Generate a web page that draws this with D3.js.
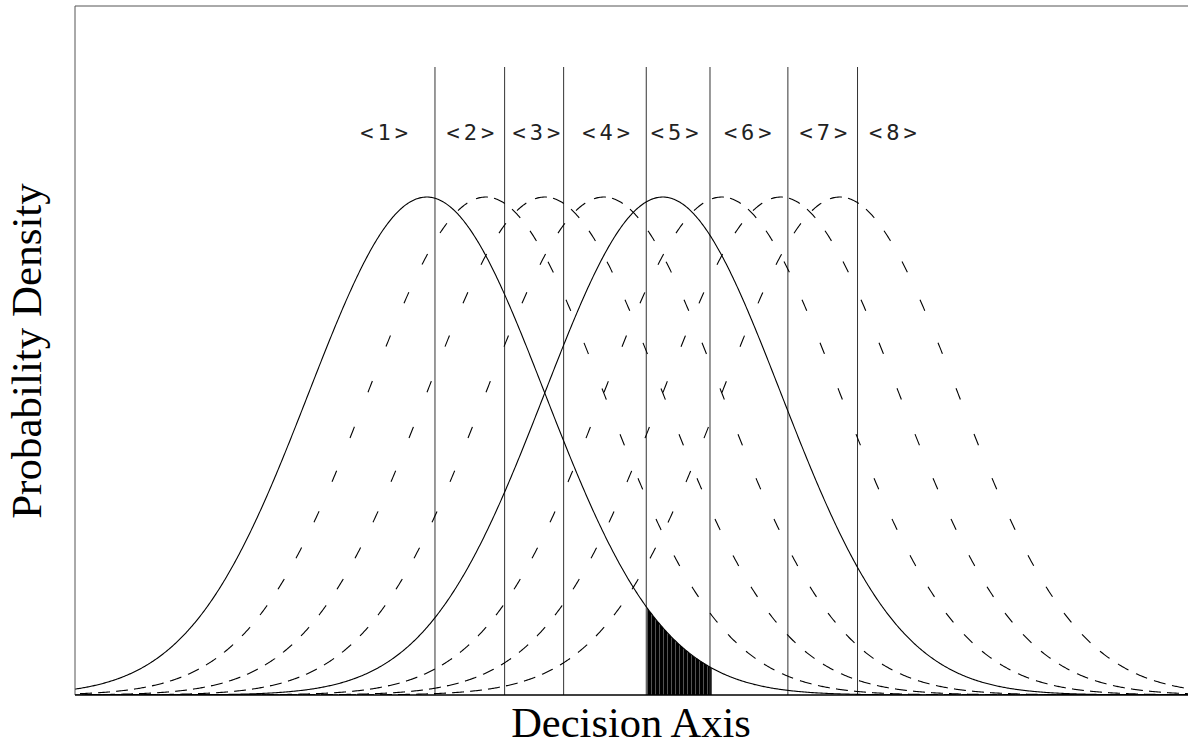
<!DOCTYPE html>
<html>
<head>
<meta charset="utf-8">
<script src="https://cdn.jsdelivr.net/npm/d3@7"></script>
<style>
  html, body { margin: 0; padding: 0; background: #fff; }
  svg { display: block; }
</style>
</head>
<body>
<svg id="chart" width="1188" height="746"></svg>
<script>
// ---- data (decision-axis units, sigma = 1) ----
const means = [0, 0.5, 1.0, 1.5, 2.0, 2.5, 3.0, 3.5];
const lineStyles = ["solid", "dashed", "dashed", "dashed", "solid", "dashed", "dashed", "dashed"];
const sigma = 1;
const criteria = [0.07, 0.66, 1.16, 1.86, 2.40, 3.06, 3.65];
const categoryLabels = ["<1>", "<2>", "<3>", "<4>", "<5>", "<6>", "<7>", "<8>"];
const labelPositions = [-0.36, 0.37, 0.93, 1.52, 2.10, 2.72, 3.36, 3.95];
const shadedCurve = 0;               // area under first distribution
const shadedRange = [criteria[3], criteria[4]];
const xTitle = "Decision Axis";
const yTitle = "Probability Density";

(function () {
// ---- layout ----
const pLeft = 75, pRight = 1188, pTop = 6, pBottom = 695;
const svg = d3.select("#chart");

const x = d3.scaleLinear().domain([-2.98, 6.45]).range([pLeft, pRight]);
const y = d3.scaleLinear().domain([0, 0.552]).range([pBottom, pTop]);

const pdf = (z, m) => Math.exp(-0.5 * ((z - m) / sigma) ** 2) / (sigma * Math.sqrt(2 * Math.PI));

const defs = svg.append("defs");
defs.append("clipPath").attr("id", "plotclip")
  .append("rect").attr("x", pLeft).attr("y", pTop).attr("width", pRight - pLeft).attr("height", pBottom - pTop);

const g = svg.append("g").attr("clip-path", "url(#plotclip)");

// sample points (1 px steps)
const step = (x.domain()[1] - x.domain()[0]) / (pRight - pLeft);
const zs = d3.range(x.domain()[0], x.domain()[1] + step, step);

// shaded area
const pat = defs.append("pattern")
  .attr("id", "hatch").attr("patternUnits", "userSpaceOnUse")
  .attr("width", 4).attr("height", 10);
pat.append("rect").attr("width", 4).attr("height", 10).attr("fill", "#000");
pat.append("rect").attr("x", 3).attr("width", 0.6).attr("height", 10).attr("fill", "#888");

const areaZ = zs.filter(z => z >= shadedRange[0] && z <= shadedRange[1] + 3 * step);
g.append("path")
  .datum(areaZ)
  .attr("d", d3.area().x(z => x(z)).y0(y(0)).y1(z => y(pdf(z, means[shadedCurve]))))
  .attr("fill", "url(#hatch)");

// criteria lines
g.selectAll("line.crit").data(criteria).join("line")
  .attr("class", "crit")
  .attr("x1", d => x(d)).attr("x2", d => x(d))
  .attr("y1", 67).attr("y2", pBottom)
  .attr("stroke", "#333").attr("stroke-width", 1);

// curves
const line = d3.line().x(p => x(p.z)).y(p => y(p.v));
means.forEach((m, i) => {
  const pts = zs.map(z => ({ z, v: pdf(z, m) }));
  if (lineStyles[i] === "solid") {
    g.append("path").datum(pts).attr("d", line)
      .attr("fill", "none").attr("stroke", "#000").attr("stroke-width", 1.1);
  } else {
    // dashes that start at regular horizontal intervals, each ~11 px long
    const period = 18, dashLen = 12;
    const phase = (i * 5) % period;
    const segs = [];
    for (let sx = pLeft + phase; sx < pRight; sx += period) {
      const startIdx = Math.round(sx - pLeft);
      if (startIdx >= pts.length) break;
      const seg = [pts[startIdx]];
      let len = 0;
      for (let j = startIdx + 1; j < pts.length; j++) {
        const a = pts[j - 1], b = pts[j];
        const d = Math.hypot(x(b.z) - x(a.z), y(b.v) - y(a.v));
        if (len + d > dashLen) {
          const t = (dashLen - len) / d;
          seg.push({ z: a.z + t * (b.z - a.z), v: a.v + t * (b.v - a.v) });
          break;
        }
        len += d;
        seg.push(b);
      }
      segs.push(seg);
    }
    g.append("g").selectAll("path").data(segs).join("path")
      .attr("d", line)
      .attr("fill", "none").attr("stroke", "#000").attr("stroke-width", 1.1);
  }
});

// frame
svg.append("line").attr("x1", pLeft).attr("x2", pRight).attr("y1", pTop).attr("y2", pTop)
  .attr("stroke", "#555").attr("stroke-width", 1);
svg.append("line").attr("x1", pLeft).attr("x2", pLeft).attr("y1", pTop).attr("y2", pBottom)
  .attr("stroke", "#555").attr("stroke-width", 1);
svg.append("line").attr("x1", pLeft).attr("x2", pRight).attr("y1", pBottom).attr("y2", pBottom)
  .attr("stroke", "#000").attr("stroke-width", 1.5);

// category labels
svg.selectAll("text.cat").data(categoryLabels).join("text")
  .attr("class", "cat")
  .attr("x", (d, i) => x(labelPositions[i]))
  .attr("y", 140)
  .attr("dx", 2)
  .attr("text-anchor", "middle")
  .attr("font-family", "'DejaVu Sans Mono', monospace")
  .attr("font-size", 22)
  .attr("letter-spacing", 4)
  .attr("fill", "#222")
  .text(d => d);

// axis titles
svg.append("text")
  .attr("x", 631).attr("y", 737)
  .attr("text-anchor", "middle")
  .attr("font-family", "'Liberation Serif', 'Times New Roman', serif")
  .attr("font-size", 42.5)
  .attr("fill", "#000")
  .text(xTitle);

svg.append("text")
  .attr("transform", "translate(41,351) rotate(-90)")
  .attr("text-anchor", "middle")
  .attr("font-family", "'Liberation Serif', 'Times New Roman', serif")
  .attr("font-size", 43)
  .attr("fill", "#000")
  .text(yTitle);
})();
</script>
</body>
</html>
